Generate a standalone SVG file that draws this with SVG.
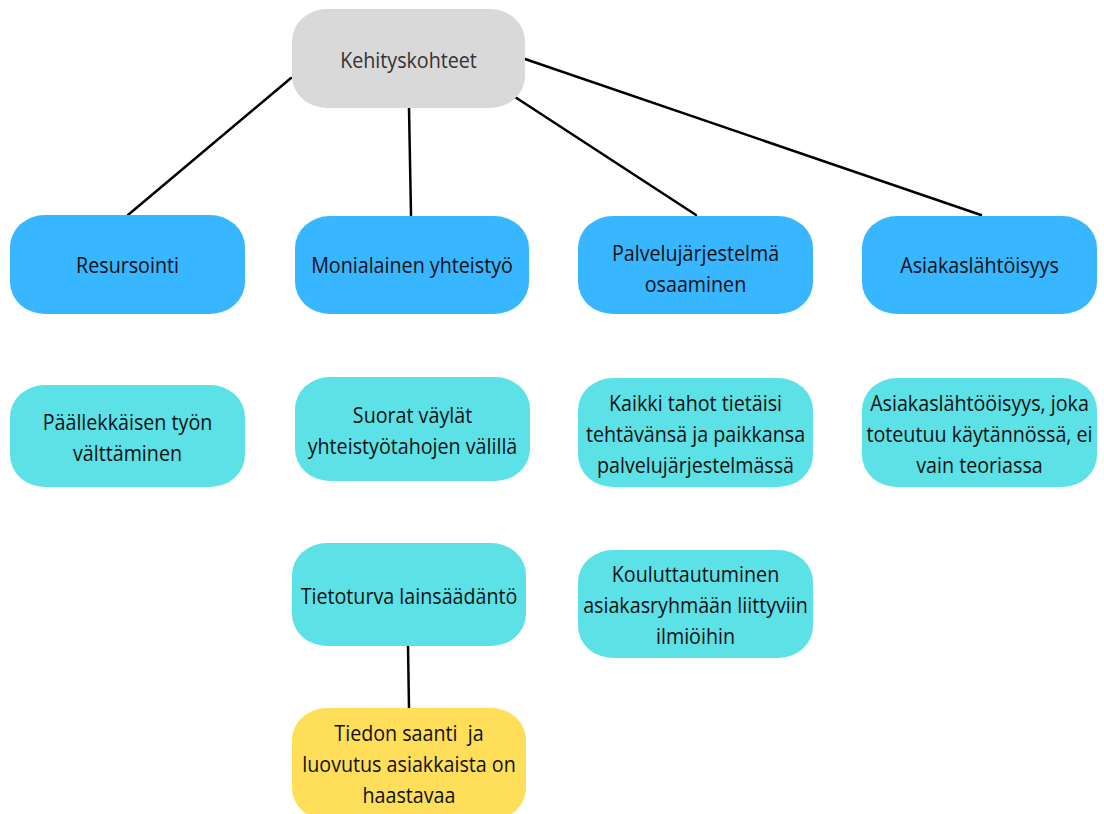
<svg xmlns="http://www.w3.org/2000/svg" width="1104" height="814" viewBox="0 0 1104 814">
<style>
.gray{fill:#D9D9D9}
.blue{fill:#38B6FF}
.cyan{fill:#5CE1E6}
.yellow{fill:#FFDE59}
.conn line{stroke:#000;stroke-width:2.5;stroke-linecap:round}
text{font-family:"Open Sans","Noto Sans",sans-serif;font-size:22.5px;fill:#111;text-anchor:middle}
.top text{fill:#333}
</style>
<rect width="1104" height="814" fill="#fff"/>
<g class="conn" id="connectors">
<line x1="291" y1="78" x2="128" y2="215"/>
<line x1="409" y1="108" x2="411" y2="215"/>
<line x1="515" y1="97" x2="696" y2="215"/>
<line x1="525" y1="59" x2="981" y2="215"/>
<line x1="408" y1="646" x2="409" y2="708"/>
</g>
<g id="n-kehityskohteet" class="top">
<rect class="gray" x="292" y="9" width="233" height="99" rx="35" ry="32"/>
<text transform="translate(408.5,68) scale(0.875,1)">Kehityskohteet</text>
</g>
<g id="n-resursointi">
<rect class="blue" x="10" y="215" width="235" height="99" rx="35" ry="32"/>
<text transform="translate(127.5,273) scale(0.875,1)">Resursointi</text>
</g>
<g id="n-monialainen">
<rect class="blue" x="295" y="216" width="234" height="98" rx="35" ry="32"/>
<text transform="translate(412,273) scale(0.875,1)">Monialainen yhteistyö</text>
</g>
<g id="n-palvelu">
<rect class="blue" x="578" y="216" width="235" height="98" rx="35" ry="32"/>
<text transform="translate(695.5,261) scale(0.875,1)">Palvelujärjestelmä</text>
<text transform="translate(695.5,292) scale(0.875,1)">osaaminen</text>
</g>
<g id="n-asiakas">
<rect class="blue" x="862" y="216" width="235" height="98" rx="35" ry="32"/>
<text transform="translate(979.5,273) scale(0.875,1)">Asiakaslähtöisyys</text>
</g>
<g id="n-paallekkaisen">
<rect class="cyan" x="10" y="385" width="235" height="102" rx="35" ry="32"/>
<text transform="translate(127.5,430) scale(0.875,1)">Päällekkäisen työn</text>
<text transform="translate(127.5,461) scale(0.875,1)">välttäminen</text>
</g>
<g id="n-suorat">
<rect class="cyan" x="295" y="377" width="235" height="104" rx="35" ry="32"/>
<text transform="translate(412.5,423) scale(0.875,1)">Suorat väylät</text>
<text transform="translate(412.5,454) scale(0.875,1)">yhteistyötahojen välillä</text>
</g>
<g id="n-kaikki">
<rect class="cyan" x="578" y="378" width="235" height="109" rx="35" ry="32"/>
<text transform="translate(695.5,410.5) scale(0.875,1)">Kaikki tahot tietäisi</text>
<text transform="translate(695.5,441.5) scale(0.875,1)">tehtävänsä ja paikkansa</text>
<text transform="translate(695.5,472.5) scale(0.875,1)">palvelujärjestelmässä</text>
</g>
<g id="n-asiakas2">
<rect class="cyan" x="862" y="378" width="235" height="109" rx="35" ry="32"/>
<text transform="translate(979.5,410.5) scale(0.875,1)">Asiakaslähtööisyys, joka</text>
<text transform="translate(979.5,441.5) scale(0.875,1)">toteutuu käytännössä, ei</text>
<text transform="translate(979.5,472.5) scale(0.875,1)">vain teoriassa</text>
</g>
<g id="n-tietoturva">
<rect class="cyan" x="292" y="543" width="234" height="103" rx="35" ry="32"/>
<text transform="translate(409,603.5) scale(0.875,1)">Tietoturva lainsäädäntö</text>
</g>
<g id="n-kouluttautuminen">
<rect class="cyan" x="578" y="550" width="235" height="108" rx="35" ry="32"/>
<text transform="translate(695.5,582) scale(0.875,1)">Kouluttautuminen</text>
<text transform="translate(695.5,613) scale(0.875,1)">asiakasryhmään liittyviin</text>
<text transform="translate(695.5,644) scale(0.875,1)">ilmiöihin</text>
</g>
<g id="n-tiedon">
<rect class="yellow" x="292" y="708" width="234" height="112" rx="35" ry="32"/>
<text transform="translate(409,741) scale(0.875,1)" xml:space="preserve">Tiedon saanti  ja</text>
<text transform="translate(409,772) scale(0.875,1)">luovutus asiakkaista on</text>
<text transform="translate(409,803) scale(0.875,1)">haastavaa</text>
</g>
</svg>
